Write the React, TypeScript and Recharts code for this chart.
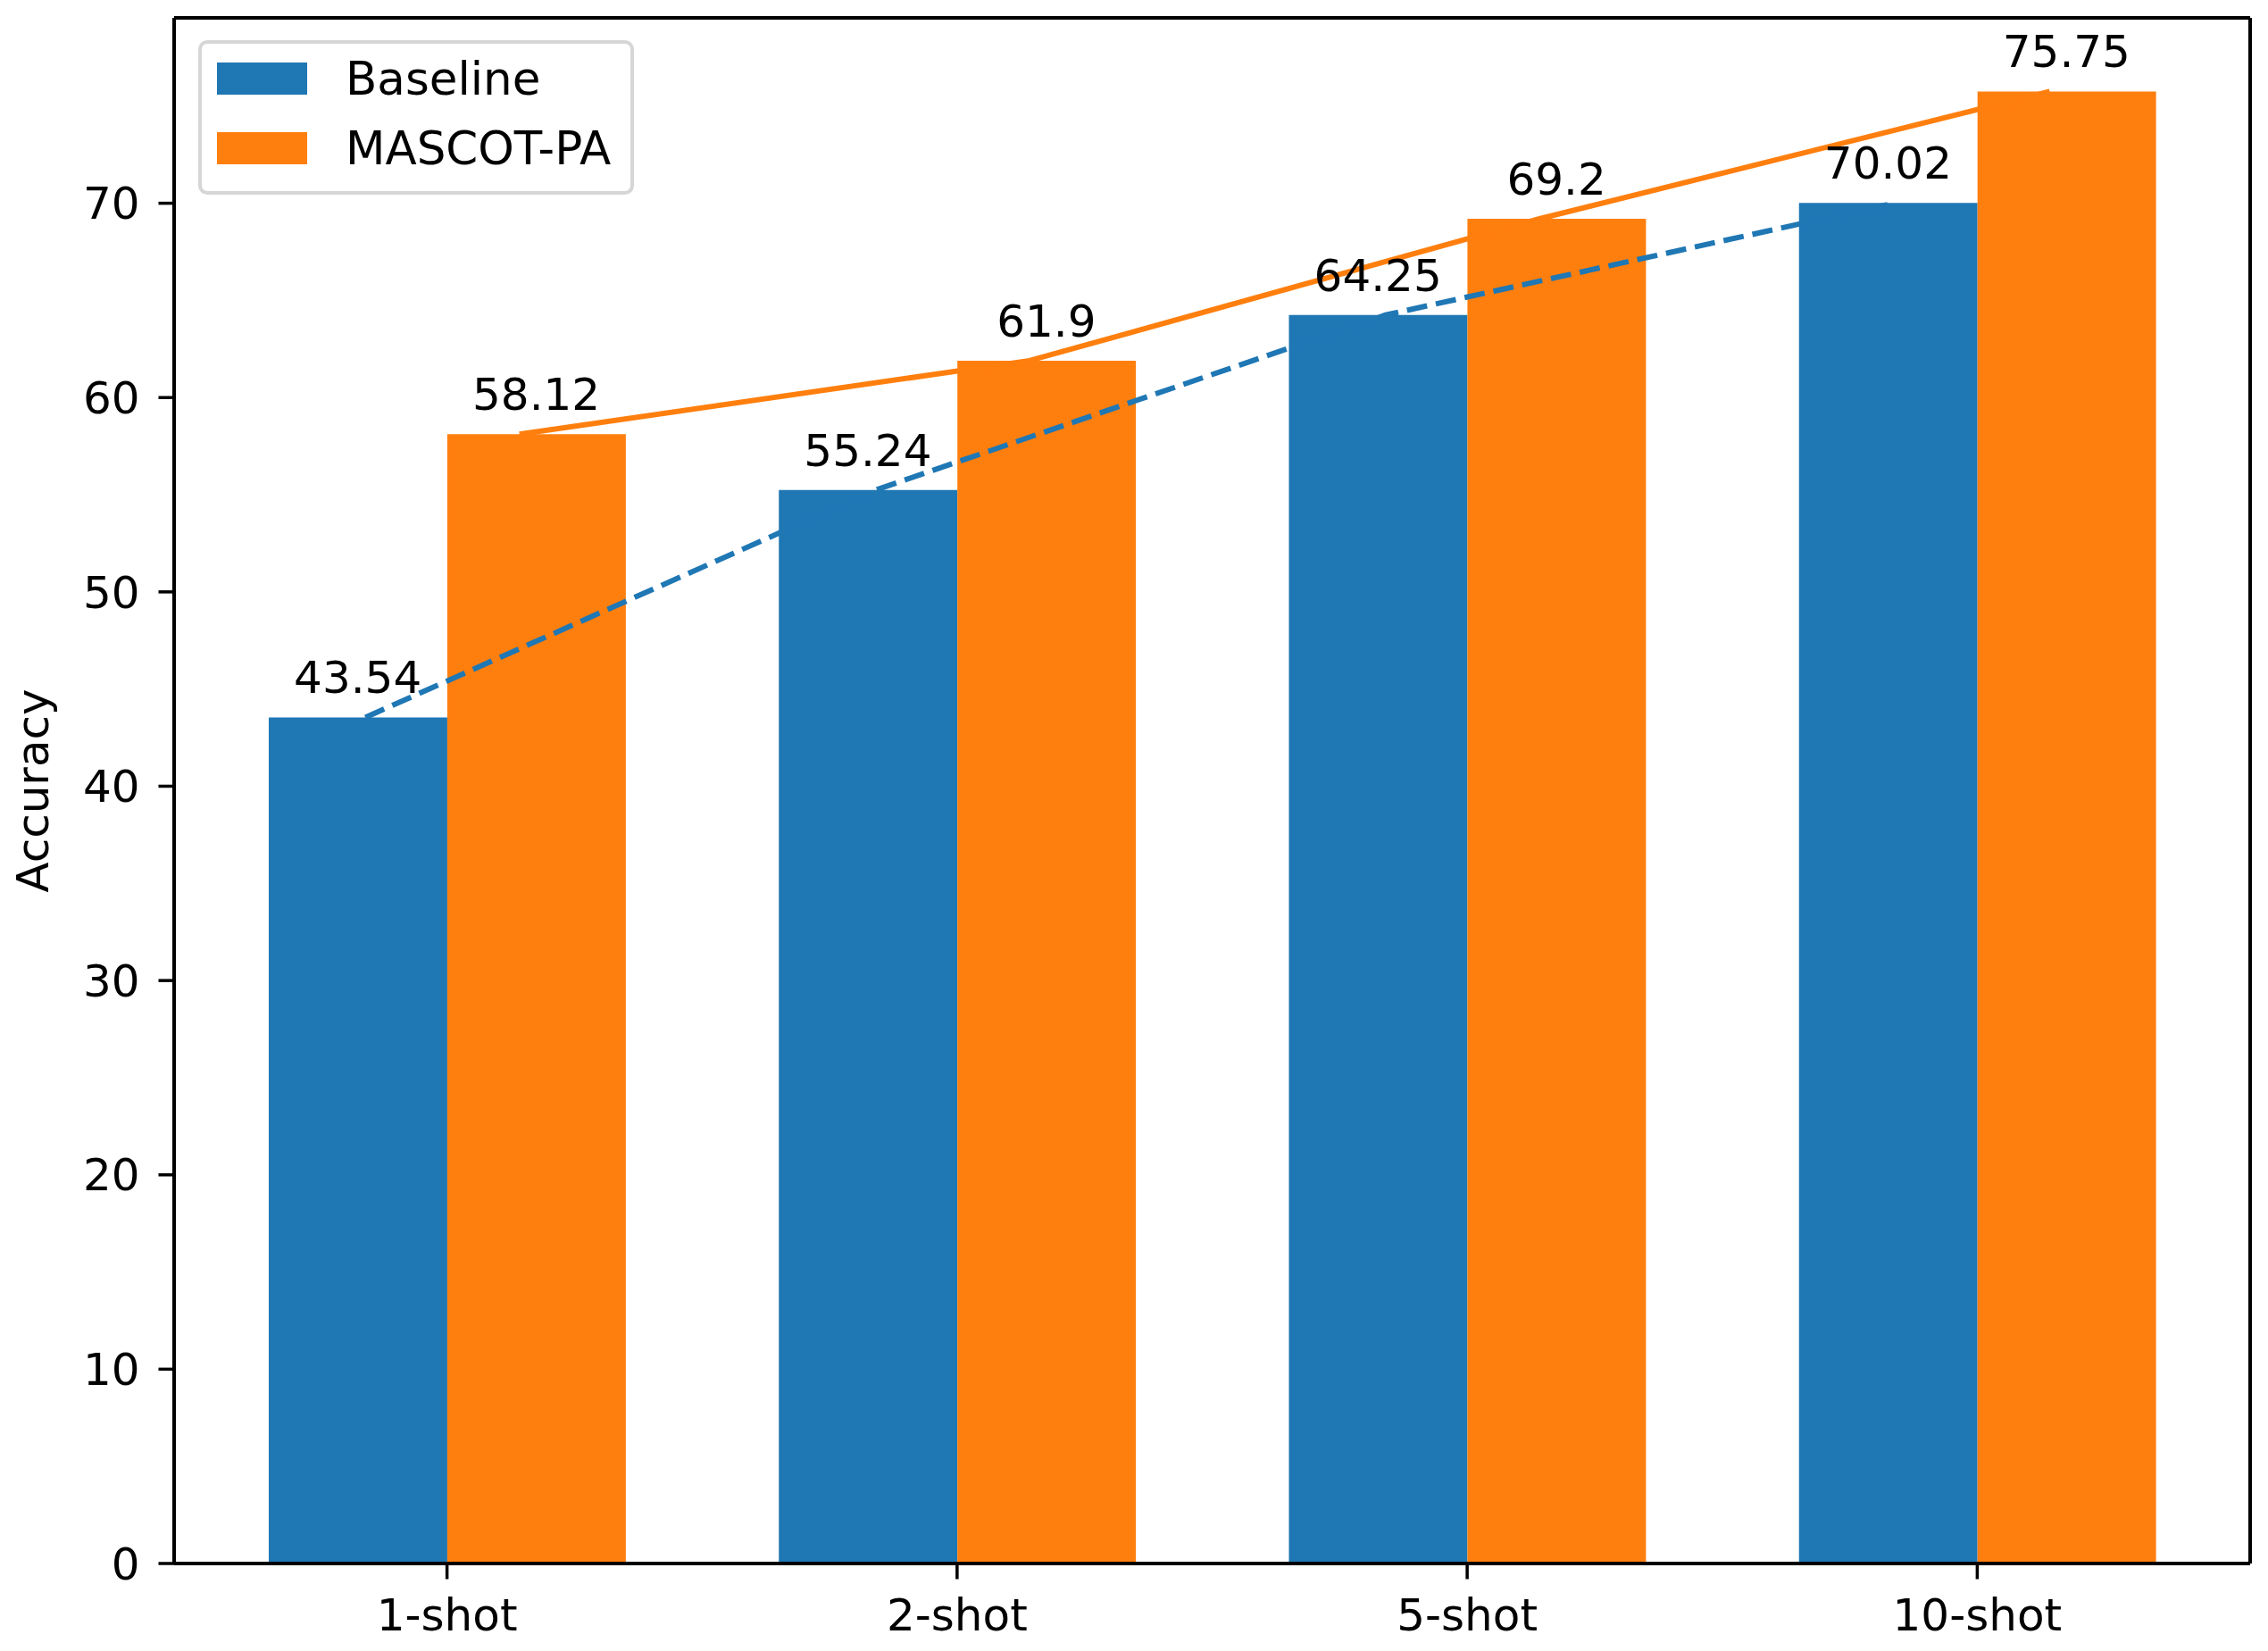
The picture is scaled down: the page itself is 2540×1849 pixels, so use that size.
import React from "react";
import { ComposedChart, Bar, Line, XAxis, YAxis, LabelList, ReferenceLine } from "recharts";

// data
const categories = ["1-shot", "2-shot", "5-shot", "10-shot"];
const baseline = [43.54, 55.24, 64.25, 70.02];
const mascot = [58.12, 61.9, 69.2, 75.75];
const yTicks = [0, 10, 20, 30, 40, 50, 60, 70];

const W = 2540;
const H = 1849;
const FONT = '"DejaVu Sans", sans-serif';
const FS = 50;
const BLUE = "#1f77b4";
const ORANGE = "#ff7f0e";

// matplotlib-like axes: bars of width 0.35 either side of the tick
const X_DOMAIN: [number, number] = [-0.535, 3.535];
const Y_MAX = 79.54;
const BAR_W = 0.35;

const plot = { left: 195, right: 20, top: 20, bottom: 98 };
const plotW = W - plot.left - plot.right;
const plotH = H - plot.top - plot.bottom;
const band = plotW / (X_DOMAIN[1] - X_DOMAIN[0]);
const catPad = band * (-0.5 - X_DOMAIN[0]);

const barData = categories.map((name, i) => ({ name, baseline: baseline[i], mascot: mascot[i] }));
const baselineLine = baseline.map((y, i) => ({ x: i - 0.16, y }));
const mascotLine = mascot.map((y, i) => ({ x: i + 0.142, y }));
const baselineLabels = baseline.map((y, i) => ({ x: i - BAR_W / 2, y }));
const mascotLabels = mascot.map((y, i) => ({ x: i + BAR_W / 2, y }));

const ValueLabel = (props: any) => {
    const x = props.x ?? props.viewBox?.x;
    const y = props.y ?? props.viewBox?.y;
    return (
        <text x={x} y={y - 27} textAnchor="middle" fontFamily={FONT} fontSize={FS} fill="#000">
            {props.value}
        </text>
    );
};

const axisLine = { stroke: "#000", strokeWidth: 4 };
const tickLine = { stroke: "#000", strokeWidth: 3.5 };
const tickStyle = { fontFamily: FONT, fontSize: FS, fill: "#000" };

const legendItems = [
    { label: "Baseline", color: BLUE, top: 21 },
    { label: "MASCOT-PA", color: ORANGE, top: 99 },
];

export default function App() {
    const yLabelY = plot.top + plotH / 2;
    return (
        <div style={{ position: "absolute", left: 0, top: 0, width: W, height: H, background: "#fff" }}>
            <ComposedChart
                width={W}
                height={H}
                data={barData}
                margin={{ top: plot.top, right: plot.right, left: 0, bottom: 0 }}
                barGap={0}
            >
                <XAxis
                    xAxisId="cat"
                    dataKey="name"
                    interval={0}
                    padding={{ left: catPad, right: catPad }}
                    height={plot.bottom}
                    tickSize={17.5}
                    tickMargin={22}
                    tick={tickStyle}
                    tickLine={tickLine}
                    axisLine={axisLine}
                />
                <XAxis
                    xAxisId="num"
                    type="number"
                    dataKey="x"
                    domain={X_DOMAIN}
                    allowDataOverflow
                    hide
                />
                <YAxis
                    type="number"
                    domain={[0, Y_MAX]}
                    ticks={yTicks}
                    allowDataOverflow
                    width={plot.left}
                    tickSize={17.5}
                    tickMargin={21}
                    tick={tickStyle}
                    tickLine={tickLine}
                    axisLine={axisLine}
                    label={() => (
                        <text
                            x={54}
                            y={yLabelY}
                            transform={`rotate(-90, 54, ${yLabelY})`}
                            textAnchor="middle"
                            fontFamily={FONT}
                            fontSize={FS}
                            fill="#000"
                        >
                            Accuracy
                        </text>
                    )}
                />

                <Bar xAxisId="cat" dataKey="baseline" name="Baseline" fill={BLUE} barSize={band * BAR_W} isAnimationActive={false} />
                <Bar xAxisId="cat" dataKey="mascot" name="MASCOT-PA" fill={ORANGE} barSize={band * BAR_W} isAnimationActive={false} />

                <Line xAxisId="num" data={baselineLine} dataKey="y" type="linear" stroke={BLUE} strokeWidth={6}
                    strokeDasharray="23 10" dot={false} activeDot={false} isAnimationActive={false} />
                <Line xAxisId="num" data={mascotLine} dataKey="y" type="linear" stroke={ORANGE} strokeWidth={6}
                    dot={false} activeDot={false} isAnimationActive={false} />

                {/* value labels sit on invisible series so they draw above the lines */}
                <Line xAxisId="num" data={baselineLabels} dataKey="y" stroke="none" dot={false} activeDot={false} isAnimationActive={false}>
                    <LabelList dataKey="y" content={ValueLabel} />
                </Line>
                <Line xAxisId="num" data={mascotLabels} dataKey="y" stroke="none" dot={false} activeDot={false} isAnimationActive={false}>
                    <LabelList dataKey="y" content={ValueLabel} />
                </Line>

                {/* top and right spines */}
                <ReferenceLine xAxisId="num" y={Y_MAX} stroke="#000" strokeWidth={4} ifOverflow="visible" />
                <ReferenceLine xAxisId="num" x={X_DOMAIN[1]} stroke="#000" strokeWidth={4} ifOverflow="visible" />
            </ComposedChart>

            {/* legend box, upper left like matplotlib */}
            <div
                style={{
                    position: "absolute",
                    left: 222,
                    top: 45,
                    width: 488,
                    height: 173,
                    boxSizing: "border-box",
                    border: "4px solid #d6d6d6",
                    borderRadius: 10,
                    background: "rgba(255,255,255,0.8)",
                    fontFamily: FONT,
                    fontSize: 51.5,
                    color: "#000",
                }}
            >
                {legendItems.map((item) => (
                    <div key={item.label}>
                        <div style={{ position: "absolute", left: 17, top: item.top, width: 101, height: 36, background: item.color }} />
                        <div style={{ position: "absolute", left: 161, top: item.top + 18 - 25, height: 50, lineHeight: "50px", whiteSpace: "nowrap" }}>
                            {item.label}
                        </div>
                    </div>
                ))}
            </div>
        </div>
    );
}
